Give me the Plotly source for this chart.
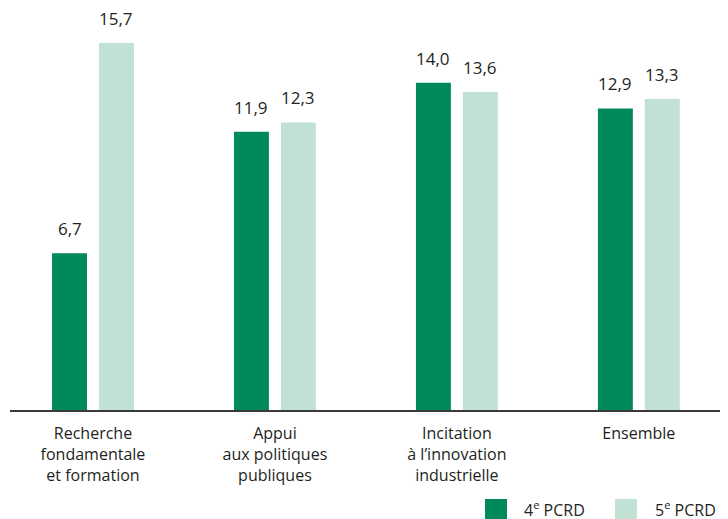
import plotly.graph_objects as go

categories = ["Recherche<br>fondamentale<br>et formation", "Appui<br>aux politiques<br>publiques",
              "Incitation<br>à l’innovation<br>industrielle", "Ensemble"]
pcrd4 = [6.7, 11.9, 14.0, 12.9]
pcrd5 = [15.7, 12.3, 13.6, 13.3]
series_names = ["4<sup>e</sup> PCRD", "5<sup>e</sup> PCRD"]
colors = ["#00895A", "#C2E1D5"]

FONT = "Open Sans, Lato, sans-serif"
TXT = "#231f20"
xpos = list(range(len(categories)))

fig = go.Figure()
offsets = [-0.225, 0.033]
for vals, name, col, off in zip([pcrd4, pcrd5], series_names, colors, offsets):
    fig.add_trace(go.Bar(x=xpos, y=vals, name=name, marker_color=col, marker_line_width=0,
                         width=0.192, offset=off, showlegend=False))
    for xi, v in zip(xpos, vals):
        fig.add_annotation(x=xi + off + 0.096, y=v, text=f"{v:.1f}".replace(".", ","),
                           showarrow=False, yanchor="bottom", yshift=11,
                           font=dict(size=17, color=TXT, family=FONT))

# legend drawn manually with big squares
legend_items = [(0.6616, 0.7131), (0.8426, 0.8955)]
for (sx, tx), name, col in zip(legend_items, series_names, colors):
    fig.add_shape(type="rect", xref="paper", yref="paper", x0=sx, x1=sx + 0.0306,
                  y0=-0.2725, y1=-0.2225, fillcolor=col, line_width=0)
    fig.add_annotation(xref="paper", yref="paper", x=tx, y=-0.2475, text=name, showarrow=False,
                       xanchor="left", yanchor="middle", font=dict(size=16, color=TXT, family=FONT))

fig.update_layout(
    width=720, height=511,
    margin=dict(l=2, r=0, t=2, b=109),
    plot_bgcolor="white", paper_bgcolor="white",
    font=dict(family=FONT, size=16, color=TXT),
    xaxis=dict(range=[-0.456, 3.49], tickvals=xpos, ticktext=categories, showgrid=False,
               showline=True, linecolor="#3a3a3a", linewidth=1.5, ticks="", zeroline=False,
               ticklabelstandoff=8,
               tickfont=dict(size=16, color=TXT, family=FONT)),
    yaxis=dict(range=[0, 17.11], visible=False, showgrid=False, zeroline=False),
)
fig.write_html("out.html")
